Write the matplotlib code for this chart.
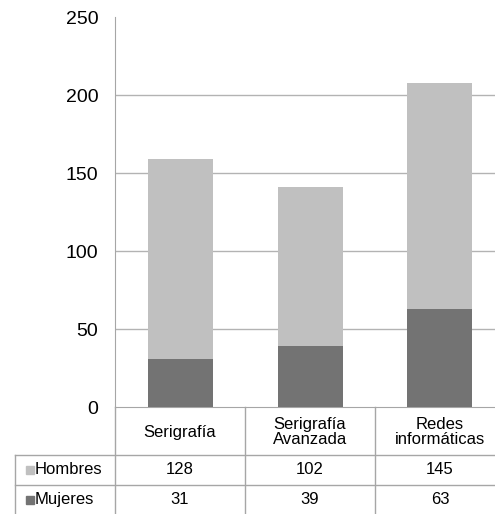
import matplotlib.pyplot as plt
import numpy as np

plt.rcParams['font.family'] = ['Liberation Sans', 'DejaVu Sans']

cursos = ['Serigrafía', 'Serigrafía\nAvanzada', 'Redes\ninformáticas']
hombres = [128, 102, 145]
mujeres = [31, 39, 63]
series = ['Hombres', 'Mujeres']
colores = {'Hombres': '#c0c0c0', 'Mujeres': '#737373'}
yticks = [0, 50, 100, 150, 200, 250]

W, H = 495, 514
fig = plt.figure(figsize=(W / 100, H / 100), dpi=100)

# plot area in pixels: left 115, top 17, bottom 407, column width 130
x0, y_top, y_bot, col_w = 115, 17, 407, 130
ax = fig.add_axes([x0 / W, (H - y_bot) / H, 3 * col_w / W, (y_bot - y_top) / H])

x = np.arange(len(cursos))
ax.bar(x, mujeres, width=0.5, color=colores['Mujeres'], zorder=3)
ax.bar(x, hombres, width=0.5, bottom=mujeres, color=colores['Hombres'], zorder=3)
ax.set_xlim(-0.5, len(cursos) - 0.5)
ax.set_ylim(0, 250)
ax.set_yticks(yticks)
ax.set_xticks([])
ax.tick_params(axis='y', length=0, pad=12, labelsize=14)
for y in yticks[1:-1]:
    ax.axhline(y, color='#b3b3b3', lw=1, zorder=1)
for s in ['top', 'right']:
    ax.spines[s].set_visible(False)
ax.spines['left'].set_color('#a6a6a6')
ax.spines['bottom'].set_color('#a6a6a6')

# data table below the chart, drawn in pixel coordinates
tb = fig.add_axes([0, 0, 1, 1], facecolor='none')
tb.set_xlim(0, W)
tb.set_ylim(H, 0)
tb.axis('off')
lc = '#a6a6a6'
row_h = [407, 455, 485, 514]
fs = 12
for i in range(len(cursos) + 1):
    xv = x0 + i * col_w
    tb.plot([xv, xv], [row_h[0], H], color=lc, lw=1)
tb.plot([15, 15], [row_h[1], H], color=lc, lw=1)
for yv in row_h[1:3]:
    tb.plot([15, W + 20], [yv, yv], color=lc, lw=1)

for i, c in enumerate(cursos):
    cx = x0 + (i + 0.5) * col_w
    tb.text(cx, (row_h[0] + row_h[1]) / 2 + 1, c, ha='center', va='center',
            fontsize=fs, linespacing=0.95)
    tb.text(cx, (row_h[1] + row_h[2]) / 2, str(hombres[i]), ha='center',
            va='center', fontsize=fs)
    tb.text(cx, (row_h[2] + row_h[3]) / 2, str(mujeres[i]), ha='center',
            va='center', fontsize=fs)

for j, s in enumerate(series):
    cy = (row_h[j + 1] + row_h[j + 2]) / 2
    tb.add_patch(plt.Rectangle((26, cy - 4), 8, 8, color=colores[s]))
    tb.text(35, cy, s, ha='left', va='center', fontsize=fs)

fig.savefig('out.png', dpi=100)
